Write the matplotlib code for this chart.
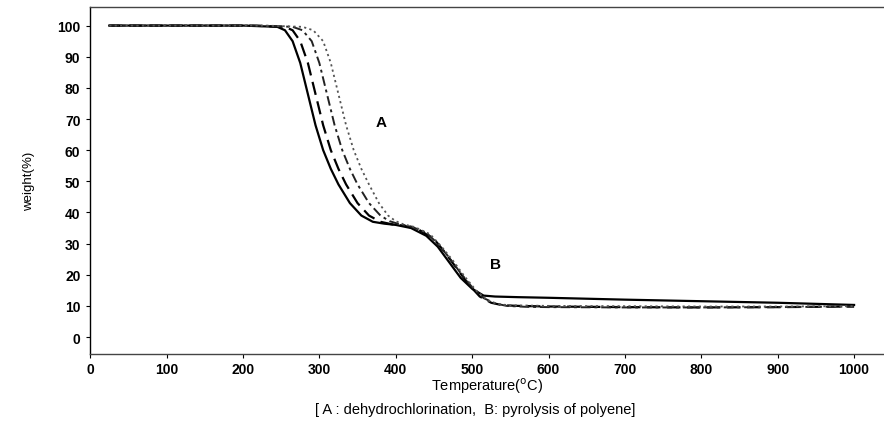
import numpy as np
import matplotlib.pyplot as plt

plt.rcParams['font.family'] = ['Liberation Sans', 'DejaVu Sans']

# ============================================================
# DATA
# ============================================================

temp_1 = [25, 200, 245, 255, 265, 275, 285, 295, 305, 315, 325, 340, 355, 370, 385,
          400, 420, 440, 455, 470, 485, 500, 515, 530, 560, 600, 700, 800, 900, 1000]
weight_1 = [100, 100, 99.6, 98.5, 95, 88, 78, 68, 60, 54, 49, 43, 39, 37, 36.4,
            36, 35, 32.5, 29, 24, 19, 15.5, 13.3, 13, 12.8, 12.6, 12, 11.5, 11, 10.3]

temp_2 = [25, 210, 255, 265, 275, 285, 295, 305, 315, 325, 335, 350, 365, 380, 395,
          410, 430, 450, 465, 480, 495, 510, 525, 540, 560, 600, 700, 800, 900, 1000]
weight_2 = [100, 100, 99.6, 98.5, 95, 88, 78, 68, 60, 54, 49, 43, 39, 37, 36.2,
            35.8, 34.5, 31.5, 27, 22, 17, 13, 11, 10.2, 10, 9.8, 9.6, 9.5, 9.6, 9.8]

temp_3 = [25, 220, 265, 278, 290, 300, 310, 320, 330, 340, 350, 365, 380, 392, 405,
          420, 440, 455, 470, 485, 500, 515, 530, 545, 570, 600, 700, 800, 900, 1000]
weight_3 = [100, 100, 99.6, 98.5, 95, 88, 78, 68, 60, 54, 49, 43, 39, 37.2, 36.2,
            35.5, 33.5, 30, 25.5, 20.5, 16, 12.5, 10.8, 10, 9.7, 9.6, 9.5, 9.5, 9.6, 9.8]

temp_4 = [25, 230, 278, 292, 305, 315, 325, 335, 345, 355, 365, 378, 390, 400, 410,
          425, 445, 460, 475, 490, 505, 520, 535, 550, 575, 600, 700, 800, 900, 1000]
weight_4 = [100, 100, 99.6, 98.5, 95, 88, 78, 68, 60, 54, 49, 43, 39, 37.2, 36.2,
            35.3, 33, 29, 24.5, 19.5, 15, 11.8, 10.5, 10.2, 10.1, 10, 9.9, 9.8, 9.8, 9.9]

X_TICKS = [0, 100, 200, 300, 400, 500, 600, 700, 800, 900, 1000]
Y_TICKS = [0, 10, 20, 30, 40, 50, 60, 70, 80, 90, 100]

# ============================================================
# PLOT
# ============================================================

fig = plt.figure(figsize=(8.84, 4.39), dpi=100)
ax = fig.add_axes([0.102, 0.191, 0.897, 0.791])

ax.plot(temp_1, weight_1, color='black', lw=1.6, ls='-')
ax.plot(temp_2, weight_2, color='black', lw=1.6, ls=(0, (6, 3)))
ax.plot(temp_3, weight_3, color='#222222', lw=1.4, ls=(0, (5, 2, 1.5, 2)))
ax.plot(temp_4, weight_4, color='#555555', lw=1.3, ls=(0, (1.2, 1.8)))

ax.text(381, 69, 'A', fontsize=11, fontweight='bold', ha='center', va='center')
ax.text(531, 23.5, 'B', fontsize=11, fontweight='bold', ha='center', va='center')

ax.set_xlim(0, 1038)
ax.set_ylim(-5.5, 106)
ax.set_xticks(X_TICKS)
ax.set_yticks(Y_TICKS)
ax.tick_params(labelsize=10, length=3, width=0.8, direction='out')
ax.tick_params(axis='x', pad=3)
ax.tick_params(axis='y', pad=4)
for lbl in ax.get_xticklabels() + ax.get_yticklabels():
    lbl.set_fontweight('bold')

ax.spines['right'].set_visible(False)
ax.spines['top'].set_color('#444444')
ax.spines['bottom'].set_color('#444444')
ax.spines['left'].set_color('black')
for s in ax.spines.values():
    s.set_linewidth(1.0)

ax.set_ylabel('weight(%)', fontsize=9.5, labelpad=16)
ax.set_xlabel('Temperature($^{\\rm o}$C)', fontsize=10.5, labelpad=-1)

fig.text(0.537, 0.066, '[ A : dehydrochlorination,  B: pyrolysis of polyene]',
         fontsize=10.5, ha='center', va='center')

fig.savefig('out.png', dpi=100)
